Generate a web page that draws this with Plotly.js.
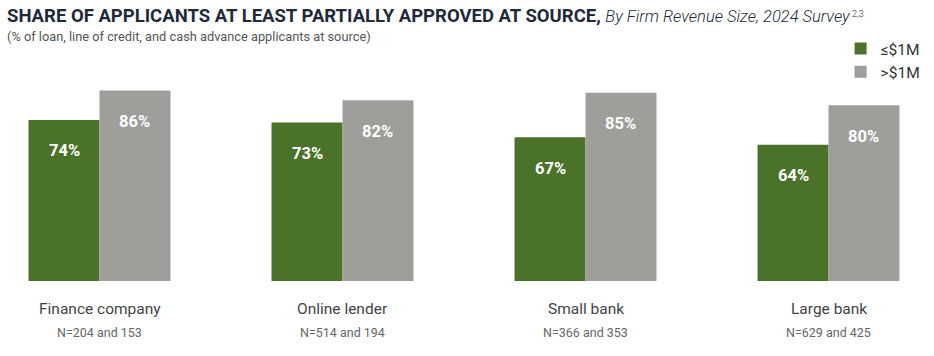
<!DOCTYPE html>
<html>
<head>
<meta charset="utf-8">
<script src="https://cdn.plot.ly/plotly-3.0.1.min.js"></script>
<style>html,body{margin:0;padding:0;background:#fff;}#chart{width:934px;height:356px;}</style>
</head>
<body>
<div id="chart"></div>
<script>
const categories = ["Finance company", "Online lender", "Small bank", "Large bank"];
const sampleNotes = ["N=204 and 153", "N=514 and 194", "N=366 and 353", "N=629 and 425"];
const seriesNames = ["≤$1M", ">$1M"];
const smallFirms = [74, 73, 67, 64];
const largeFirms = [86, 82, 85, 80];

const colors = ["#4b7229", "#9e9e9a"];
const W = 934, H = 356, plotBottom = 281;
const barHalf = 0.146;

const traces = [smallFirms, largeFirms].map((vals, k) => ({
  type: "bar",
  name: seriesNames[k],
  x: categories,
  y: vals,
  marker: {color: colors[k], line: {width: 0}},
  hoverinfo: "none"
}));

const annotations = [];
[smallFirms, largeFirms].forEach((vals, k) => {
  vals.forEach((v, i) => {
    annotations.push({
      xref: "x", yref: "y", x: i + (k === 0 ? -barHalf : barHalf), y: v,
      yshift: -31, yanchor: "middle", xanchor: "center", showarrow: false,
      text: "<b>" + v + "%</b>",
      font: {family: "Roboto", size: 16.5, color: "#ffffff"}
    });
  });
});
categories.forEach((c, i) => {
  annotations.push({
    xref: "x", yref: "paper", x: i, y: 1 - 308.5 / plotBottom,
    yanchor: "middle", xanchor: "center", showarrow: false, text: c,
    font: {family: "Roboto", size: 15.5, color: "#444444"}
  });
  annotations.push({
    xref: "x", yref: "paper", x: i, y: 1 - 332 / plotBottom,
    yanchor: "middle", xanchor: "center", showarrow: false, text: sampleNotes[i],
    font: {family: "Roboto", size: 12.5, color: "#666666"}
  });
});
annotations.push({
  xref: "paper", yref: "paper", x: 5 / W, y: 1 - 36.5 / plotBottom,
  xanchor: "left", yanchor: "middle", showarrow: false,
  text: "(% of loan, line of credit, and cash advance applicants at source)",
  font: {family: "Roboto", size: 12.8, color: "#555555"}
});

const layout = {
  width: W, height: H,
  margin: {l: 0, r: 0, t: 0, b: H - plotBottom},
  paper_bgcolor: "#ffffff", plot_bgcolor: "#ffffff",
  title: {
    text: "<b>SHARE OF APPLICANTS AT LEAST PARTIALLY APPROVED AT SOURCE,</b> " +
          "<span style=\"font-size:16.5px;font-weight:300\"><i>By Firm Revenue Size, 2024 Survey</i></span>" +
          "<span style=\"font-size:13px;font-weight:300\"><sup> 2,3</sup></span>",
    x: 7 / W, xanchor: "left", xref: "paper",
    y: 1 - 15.5 / H, yanchor: "middle", yref: "container",
    font: {family: "Roboto", size: 18.5, color: "#1f2b38"}
  },
  barmode: "group", bargap: 0.416, bargroupgap: 0,
  xaxis: {
    type: "category", range: [-99.5 / 243, (W - 99.5) / 243],
    showticklabels: false, showgrid: false, zeroline: false, showline: false, ticks: "", fixedrange: true
  },
  yaxis: {
    range: [8.7, 8.7 + plotBottom / 2.466],
    showticklabels: false, showgrid: false, zeroline: false, showline: false, ticks: "", fixedrange: true
  },
  legend: {
    x: 0.9, y: 1 - 32 / plotBottom, xanchor: "left", yanchor: "top",
    font: {family: "Roboto", size: 15.5, color: "#333333"},
    bgcolor: "rgba(0,0,0,0)", tracegroupgap: 0
  },
  annotations: annotations,
  showlegend: true
};

Plotly.newPlot("chart", traces, layout, {displayModeBar: false, staticPlot: true});
</script>
</body>
</html>
